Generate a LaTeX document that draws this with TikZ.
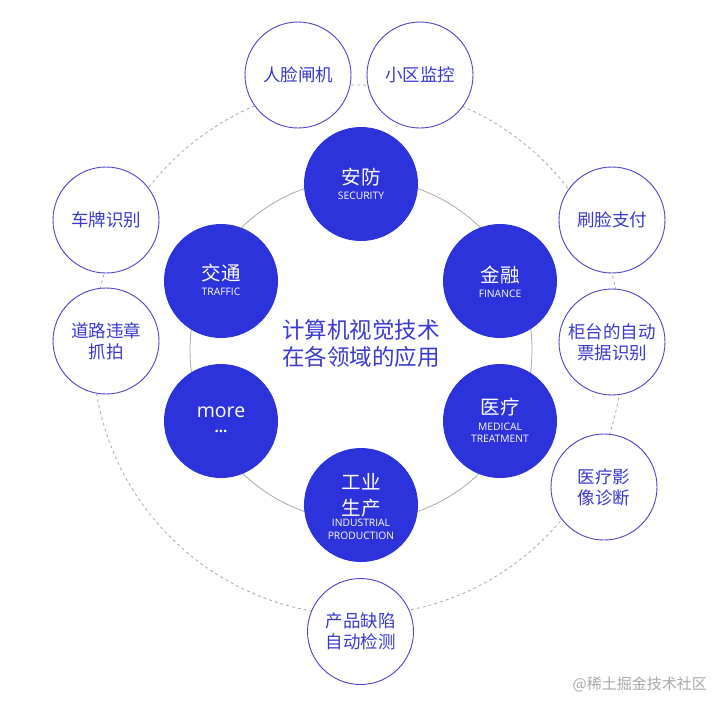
\documentclass[tikz,border=0pt]{standalone}
\usepackage{fontspec}
\setmainfont{Noto Sans CJK SC}
\newfontfamily\latinf{Open Sans}
\definecolor{bluefill}{HTML}{2C33DB}
\definecolor{ringc}{HTML}{4B44C4}
\definecolor{txtc}{HTML}{3A3ACF}
\definecolor{linegray}{HTML}{AAAAAA}
\definecolor{wmgray}{HTML}{A8A8A8}
\begin{document}
\begin{tikzpicture}[x=1pt,y=-1pt,
  bluec/.style={circle,fill=bluefill,draw=none,minimum size=114pt,inner sep=0pt},
  ringnode/.style={circle,fill=white,draw=ringc,line width=0.9pt,minimum size=106pt,inner sep=0pt},
  bigw/.style={text=white,inner sep=0pt,font=\fontsize{19.5}{22}\selectfont},
  smallw/.style={text=white,inner sep=0pt,font=\latinf\fontsize{10.3}{12}\selectfont},
  ringtxt/.style={text=txtc,inner sep=0pt,align=center,font=\fontsize{17.5}{21}\selectfont},
  centertxt/.style={text=txtc,inner sep=0pt,align=center,font=\fontsize{22.5}{27}\selectfont},
  wm/.style={text=wmgray,inner sep=0pt,font=\fontsize{15}{18}\selectfont}]
\useasboundingbox (0,0) rectangle (727,713);
\fill[white] (0,0) rectangle (727,713);
% background rings
\draw[linegray,line width=0.8pt] (361,350) circle[radius=171];
\draw[linegray,line width=0.8pt,dash pattern=on 3pt off 3pt] (358,350) circle[radius=265];
% blue domain circles
\node[bluec] (anfang) at (361,184) {};
\node[bigw] (anfangT) at (361,177) {安防};
\node[smallw] (anfangE) at (361,196) {SECURITY};
\node[bluec] (jinrong) at (500,281) {};
\node[bigw] (jinrongT) at (500,275) {金融};
\node[smallw] (jinrongE) at (500,294) {FINANCE};
\node[bluec] (yiliao) at (500,421) {};
\node[bigw] (yiliaoT) at (500,407) {医疗};
\node[smallw] (yiliaoE1) at (500,427) {MEDICAL};
\node[smallw] (yiliaoE2) at (500,439) {TREATMENT};
\node[bluec] (gongye) at (361,505) {};
\node[bigw] (gongyeT1) at (361,482) {工业};
\node[bigw] (gongyeT2) at (361,508) {生产};
\node[smallw] (gongyeE1) at (361,523) {INDUSTRIAL};
\node[smallw] (gongyeE2) at (361,536) {PRODUCTION};
\node[bluec] (more) at (221,421) {};
\node[text=white,inner sep=0pt,font=\latinf\fontsize{19.5}{22}\selectfont] (moreT) at (221,412) {more};
\node[text=white,inner sep=0pt,font=\latinf\bfseries\fontsize{15}{16}\selectfont] (moreD) at (221,431) {...};
\node[bluec] (jiaotong) at (221,281) {};
\node[bigw] (jiaotongT) at (221,273) {交通};
\node[smallw] (jiaotongE) at (221,292) {TRAFFIC};
% centre title
\node[centertxt] (title) at (361,343.5) {计算机视觉技术\\在各领域的应用};
% outer application circles
\node[ringnode,ringtxt] (renlian) at (298,75) {人脸闸机};
\node[ringnode,ringtxt] (xiaoqu) at (420,75) {小区监控};
\node[ringnode,ringtxt] (chepai) at (106,220) {车牌识别};
\node[ringnode,ringtxt] (daolu) at (106,341) {道路违章\\抓拍};
\node[ringnode,ringtxt] (shualian) at (612,220) {刷脸支付};
\node[ringnode,ringtxt] (guitai) at (612,342) {柜台的自动\\票据识别};
\node[ringnode,ringtxt] (yingxiang) at (604,487) {医疗影\\像诊断};
\node[ringnode,ringtxt] (chanpin) at (360.5,631.5) {产品缺陷\\自动检测};
% watermark
\node[wm,anchor=east] (mark) at (707,684) {@稀土掘金技术社区};
\end{tikzpicture}
\end{document}
